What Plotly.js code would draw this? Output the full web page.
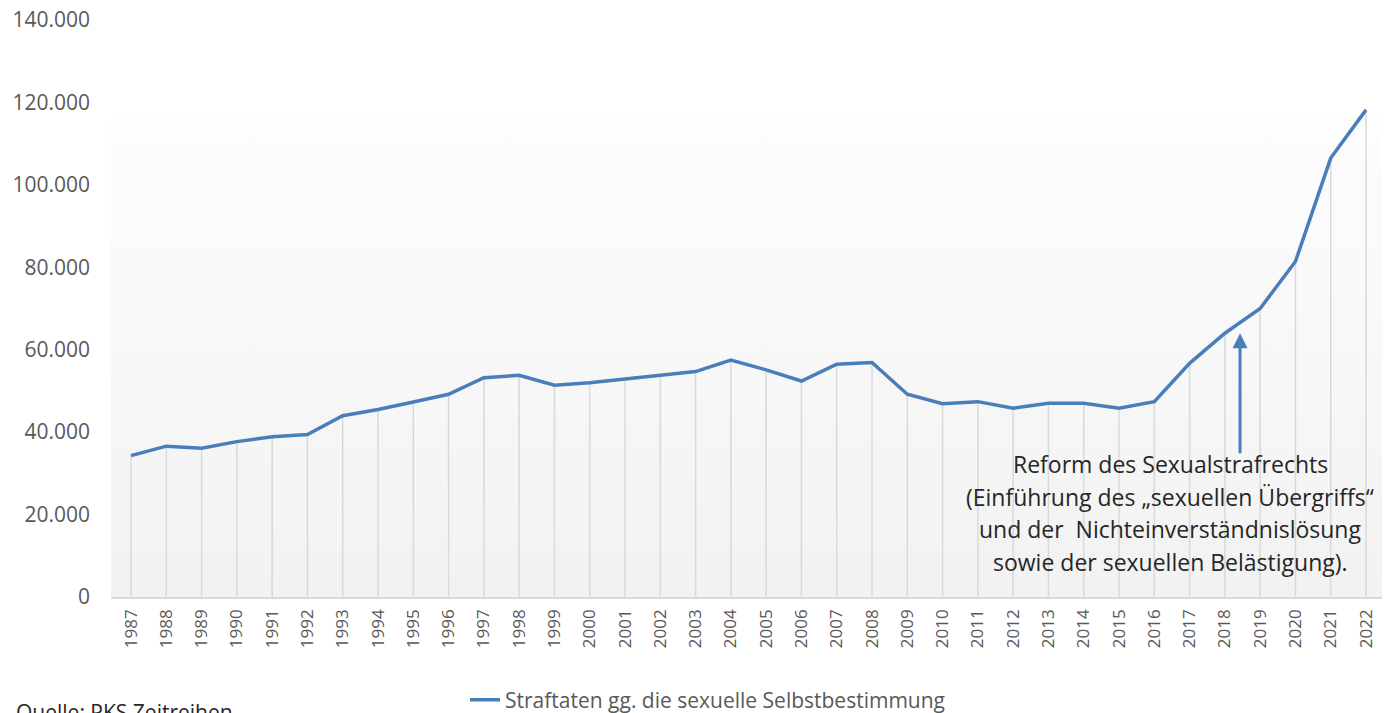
<!DOCTYPE html>
<html>
<head>
<meta charset="utf-8">
<script src="https://cdn.plot.ly/plotly-3.0.1.min.js"></script>
<style>
  html, body { margin: 0; padding: 0; background: #ffffff; }
  #wrap { position: relative; width: 1389px; height: 713px; overflow: hidden; }
  #bg { position: absolute; left: 111px; top: 117px; width: 1271px; height: 480px;
        background: linear-gradient(to bottom, #fdfdfd 0%, #f2f2f2 100%); }
  #chart { position: absolute; left: 0; top: 0; width: 1389px; height: 713px; }
</style>
</head>
<body>
<div id="wrap">
  <div id="bg"></div>
  <div id="chart"></div>
</div>
<script>
// ---- data ----
const years = [1987,1988,1989,1990,1991,1992,1993,1994,1995,1996,1997,1998,1999,2000,2001,2002,2003,2004,2005,2006,2007,2008,2009,2010,2011,2012,2013,2014,2015,2016,2017,2018,2019,2020,2021,2022];
const offences = [34300,36600,36100,37700,38900,39400,44000,45500,47300,49200,53200,53800,51400,52000,52900,53800,54700,57500,55100,52400,56500,56900,49200,46900,47400,45800,47000,47000,45800,47400,56700,64000,70000,81400,106500,118200];
const seriesName = "Straftaten gg. die sexuelle Selbstbestimmung";
const yTicks = [0,20000,40000,60000,80000,100000,120000,140000];
const noteLines = [
  "Reform des Sexualstrafrechts",
  "(Einführung des „sexuellen Übergriffs“",
  "und der  Nichteinverständnislösung",
  "sowie der sexuellen Belästigung)."
];
const sourceText = "Quelle: PKS Zeitreihen";

// ---- drop lines built from the data ----
const dropX = [], dropY = [];
years.forEach((yr, i) => { dropX.push(yr, yr, null); dropY.push(0, offences[i], null); });

const traces = [
  { x: dropX, y: dropY, mode: 'lines', line: { color: '#d9d9d9', width: 1.5 },
    showlegend: false, hoverinfo: 'skip' },
  { x: years, y: offences, mode: 'lines', name: seriesName,
    line: { color: '#4a7ebb', width: 3.5 }, hoverinfo: 'x+y' }
];

// annotation lines
const annotations = noteLines.map((t, i) => ({
  xref: 'x', yref: 'paper', x: 2016.45, y: (597 - (464 + i * 32.5)) / 577,
  text: t, showarrow: false, xanchor: 'center', yanchor: 'middle',
  font: { family: 'Open Sans, sans-serif', size: 23, color: '#262626' }
}));
// arrow
annotations.push({
  xref: 'x', yref: 'y', axref: 'x', ayref: 'y',
  x: 2018.43, y: 64000, ax: 2018.43, ay: 34500,
  text: '', showarrow: true, arrowhead: 2, arrowsize: 1, arrowwidth: 3,
  arrowcolor: '#4a7ebb', standoff: 0, startstandoff: 0
});
// source
annotations.push({
  xref: 'paper', yref: 'paper', x: (14 - 111) / 1271, y: (597 - 712) / 577,
  text: sourceText, showarrow: false, xanchor: 'left', yanchor: 'middle',
  font: { family: 'Open Sans, sans-serif', size: 21, color: '#262626' }
});

const layout = {
  width: 1389, height: 713,
  margin: { l: 111, r: 7, t: 20, b: 116, pad: 0 },
  paper_bgcolor: 'rgba(0,0,0,0)', plot_bgcolor: 'rgba(0,0,0,0)',
  separators: ',.',
  font: { family: 'Open Sans, sans-serif', color: '#595959' },
  xaxis: {
    type: 'linear', range: [1986.433, 2022.453], fixedrange: true,
    tickvals: years, ticktext: years.map(String), tickangle: -90,
    tickfont: { size: 17, color: '#595959' },
    showgrid: false, zeroline: false, showline: true, linecolor: '#d9d9d9', linewidth: 1.5,
    ticks: '', ticklabelstandoff: 4
  },
  yaxis: {
    range: [0, 140000], fixedrange: true, tickvals: yTicks, tickformat: ',d',
    tickfont: { size: 21, color: '#595959' },
    showgrid: false, zeroline: false, showline: false, ticks: '', ticklabelstandoff: 20
  },
  showlegend: true,
  legend: {
    orientation: 'h', xref: 'container', yref: 'container',
    x: 465 / 1389, xanchor: 'left', y: 1 - 700 / 713, yanchor: 'middle',
    font: { size: 21, color: '#595959' }, bgcolor: 'rgba(0,0,0,0)'
  },
  annotations: annotations
};

Plotly.newPlot('chart', traces, layout, { displayModeBar: false, staticPlot: true });
</script>
</body>
</html>
